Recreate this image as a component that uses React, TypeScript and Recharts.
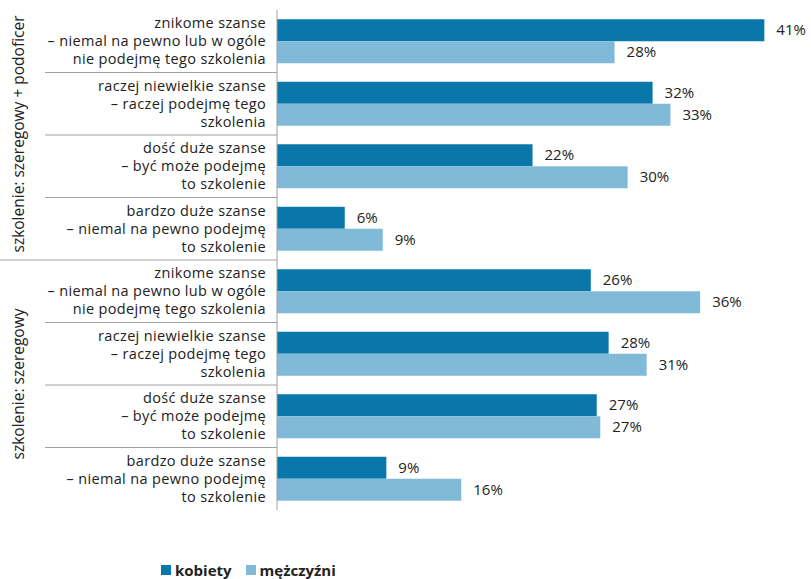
import React from "react";
import { BarChart, Bar, XAxis, YAxis, LabelList, Legend } from "recharts";

const categoryLines: string[][] = [
  ["znikome szanse", "– niemal na pewno lub w ogóle", "nie podejmę tego szkolenia"],
  ["raczej niewielkie szanse", "– raczej podejmę tego", "szkolenia"],
  ["dość duże szanse", "– być może podejmę", "to szkolenie"],
  ["bardzo duże szanse", "– niemal na pewno podejmę", "to szkolenie"],
  ["znikome szanse", "– niemal na pewno lub w ogóle", "nie podejmę tego szkolenia"],
  ["raczej niewielkie szanse", "– raczej podejmę tego", "szkolenia"],
  ["dość duże szanse", "– być może podejmę", "to szkolenie"],
  ["bardzo duże szanse", "– niemal na pewno podejmę", "to szkolenie"],
];
const categoryIds = ["0", "1", "2", "3", "4", "5", "6", "7"];
const groupLabels = ["szkolenie: szeregowy + podoficer", "szkolenie: szeregowy"];
const kobiety = [41, 31.6, 21.5, 5.7, 26.4, 27.9, 26.9, 9.2];
const mezczyzni = [28.4, 33.1, 29.5, 8.9, 35.6, 31.1, 27.2, 15.5];
const seriesNames = ["kobiety", "mężczyźni"];
const colors = ["#0a77aa", "#80bad8"];

const data = categoryIds.map((id, i) => ({ id, kobiety: kobiety[i], mezczyzni: mezczyzni[i] }));

const FONT = "'Open Sans', sans-serif";

const Tick = (props: any) => {
  const { x, y, payload } = props;
  const i = Number(payload.value);
  const lines = categoryLines[i] || [];
  const half = payload.offset || 32.5;
  const lh = 18;
  const startY = y - ((lines.length - 1) * lh) / 2;
  const els: any[] = [];
  lines.forEach((l, k) => {
    els.push(
      <text key={"t" + k} x={x - 11} y={startY + k * lh} dy="0.35em" textAnchor="end" fontSize={14.5} letterSpacing={0.35} fill="#222" fontFamily={FONT}>
        {l}
      </text>
    );
  });
  if (i < 7) {
    const x0 = i === 3 ? 0 : 45;
    els.push(<line key="sep" x1={x0} x2={x} y1={y + half} y2={y + half} stroke="#a0a0a0" strokeWidth={1} />);
  }
  if (i === 0 || i === 4) {
    const cy = y + 3 * half - 1;
    els.push(
      <text key="grp" x={19} y={cy} transform={`rotate(-90 19 ${cy})`} dy="0.35em" textAnchor="middle" fontSize={15.5} fill="#222" fontFamily={FONT}>
        {groupLabels[i === 0 ? 0 : 1]}
      </text>
    );
  }
  return <g>{els}</g>;
};

const LegendContent = () => (
  <div style={{ display: "flex", alignItems: "center", fontFamily: FONT, fontWeight: 700, fontSize: 15, color: "#222" }}>
    {seriesNames.map((n, i) => (
      <div key={n} style={{ display: "flex", alignItems: "center", marginRight: 14 }}>
        <span style={{ display: "inline-block", width: 10, height: 10, background: colors[i], marginRight: 4 }} />
        <span>{n}</span>
      </div>
    ))}
  </div>
);

const fmt = (v: any) => `${Math.round(Number(v))}%`;

export default function App() {
  return (
    <div style={{ position: "absolute", left: 0, top: 0, width: 811, height: 579, background: "#fff" }}>
      <BarChart
        width={811}
        height={579}
        data={data}
        layout="vertical"
        margin={{ top: 10, right: 11, bottom: 49, left: 0 }}
        barCategoryGap="14.6%"
        barGap={0}
      >
        <XAxis type="number" domain={[0, 44]} hide />
        <YAxis
          type="category"
          dataKey="id"
          width={277}
          axisLine={{ stroke: "#a0a0a0" }}
          tickLine={false}
          tickSize={0}
          tickMargin={0}
          tick={<Tick />}
          interval={0}
        />
        <Legend
          content={<LegendContent />}
          wrapperStyle={{ position: "absolute", left: 161, top: 560, width: 300, height: 20 }}
        />
        <Bar dataKey="kobiety" name={seriesNames[0]} fill={colors[0]} isAnimationActive={false}>
          <LabelList dataKey="kobiety" position="right" offset={12} formatter={fmt} style={{ fontSize: 15, fill: "#222", fontFamily: FONT }} />
        </Bar>
        <Bar dataKey="mezczyzni" name={seriesNames[1]} fill={colors[1]} isAnimationActive={false}>
          <LabelList dataKey="mezczyzni" position="right" offset={12} formatter={fmt} style={{ fontSize: 15, fill: "#222", fontFamily: FONT }} />
        </Bar>
      </BarChart>
    </div>
  );
}
